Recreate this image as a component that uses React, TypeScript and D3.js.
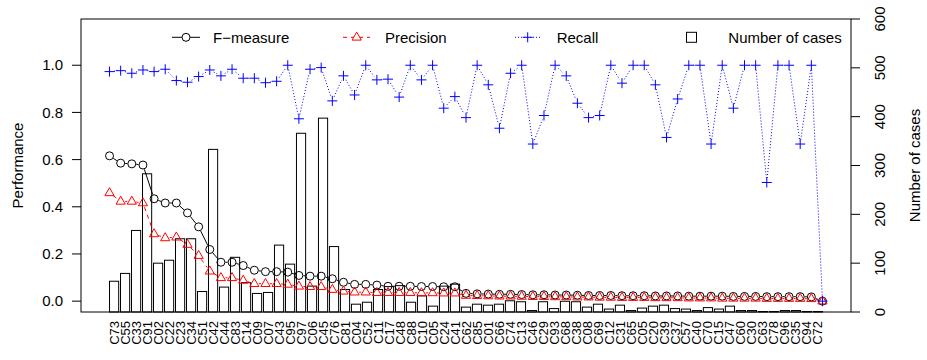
import React from 'react';
import * as d3 from 'd3';

const categories = [
  'C73','C55','C33','C91','C02','C22','C23','C34','C51','C42',
  'C44','C83','C14','C09','C07','C43','C95','C97','C06','C45',
  'C76','C81','C04','C52','C11','C17','C48','C88','C10','C05',
  'C24','C41','C62','C85','C01','C66','C74','C13','C46','C29',
  'C93','C68','C38','C08','C69','C12','C31','C65','C05','C20',
  'C39','C37','C57','C40','C70','C15','C47','C60','C30','C63',
  'C78','C96','C35','C94','C72'
];

const fMeasure = [
  0.616,0.585,0.582,0.577,0.434,0.416,0.416,0.374,0.315,0.219,
  0.165,0.165,0.151,0.131,0.125,0.125,0.123,0.109,0.106,0.106,
  0.095,0.080,0.071,0.071,0.068,0.063,0.063,0.063,0.062,0.062,
  0.061,0.061,0.033,0.031,0.030,0.029,0.029,0.028,0.027,0.027,
  0.026,0.026,0.025,0.024,0.024,0.024,0.023,0.023,0.023,0.022,
  0.022,0.022,0.021,0.021,0.021,0.021,0.020,0.020,0.020,0.019,
  0.019,0.019,0.019,0.018,0.000
];

const precision = [
  0.459,0.423,0.423,0.416,0.285,0.268,0.271,0.240,0.193,0.127,
  0.099,0.099,0.088,0.074,0.074,0.074,0.071,0.063,0.061,0.061,
  0.049,0.042,0.038,0.038,0.036,0.036,0.036,0.036,0.035,0.035,
  0.034,0.034,0.024,0.023,0.022,0.021,0.021,0.020,0.019,0.019,
  0.018,0.018,0.017,0.017,0.016,0.016,0.015,0.015,0.015,0.014,
  0.014,0.014,0.013,0.013,0.013,0.012,0.012,0.012,0.012,0.011,
  0.011,0.011,0.011,0.010,0.000
];

const recall = [
  0.973,0.977,0.966,0.980,0.973,0.983,0.935,0.928,0.952,0.980,
  0.955,0.983,0.945,0.945,0.926,0.932,1.000,0.773,0.983,0.990,
  0.849,0.955,0.874,1.000,0.938,0.941,0.865,1.000,0.938,1.000,
  0.818,0.867,0.778,1.000,0.917,0.733,0.966,1.000,0.666,0.787,
  1.000,0.955,0.839,0.778,0.787,1.000,0.924,1.000,1.000,0.917,
  0.694,0.857,1.000,1.000,0.666,1.000,0.818,1.000,1.000,0.503,
  1.000,1.000,0.666,1.000,0.000
];

const cases = [
  63,79,167,283,100,106,150,150,42,333,
  51,112,60,38,40,137,98,366,53,397,
  134,46,16,20,46,52,54,20,33,12,
  53,57,10,16,14,16,23,21,3,21,
  7,22,21,10,16,6,14,3,8,12,
  14,7,6,3,9,6,12,3,3,1,
  1,3,3,1,1
];

const perfTicks = [0, 0.2, 0.4, 0.6, 0.8, 1.0];
const caseTicks = [0, 100, 200, 300, 400, 500, 600];

const W = 927, H = 360;
const L = 81, R = 851, T = 19, B = 312;
const FONT = '"Liberation Sans", Arial, Helvetica, sans-serif';

function gapped(xs: number[], ys: number[], gap: number) {
  const segs: number[][] = [];
  for (let i = 0; i < xs.length - 1; i++) {
    const dx = xs[i + 1] - xs[i], dy = ys[i + 1] - ys[i];
    const len = Math.hypot(dx, dy);
    if (len <= 2 * gap) continue;
    const ux = dx / len, uy = dy / len;
    segs.push([xs[i] + ux * gap, ys[i] + uy * gap, xs[i + 1] - ux * gap, ys[i + 1] - uy * gap]);
  }
  return segs;
}

const triPath = (cx: number, cy: number) =>
  `M${cx},${cy - 5.2}L${cx + 4.6},${cy + 2.8}L${cx - 4.6},${cy + 2.8}Z`;

const Plus = ({ x, y }: { x: number; y: number }) => (
  <g stroke="#0000ff" strokeWidth={1}>
    <line x1={x - 5} x2={x + 5} y1={y} y2={y} />
    <line x1={x} x2={x} y1={y - 5} y2={y + 5} />
  </g>
);

export default function App() {
  const n = categories.length;
  const xPt = d3.scaleLinear().domain([1 - 0.04 * (n - 1), n + 0.04 * (n - 1)]).range([L, R]);
  const barMin = 0.2, barMax = 1.2 * n;
  const barExp = 0.04 * (barMax - barMin);
  const xBar = d3.scaleLinear().domain([barMin - barExp, barMax + barExp]).range([L, R]);
  const yPerf = d3.scaleLinear().domain([-0.046, 1.196]).range([B, T]);
  const yCases = d3.scaleLinear().domain([0, 600]).range([B, T]);

  const px = categories.map((_, i) => xPt(i + 1));
  const fy = fMeasure.map(v => yPerf(v));
  const py = precision.map(v => yPerf(v));
  const ry = recall.map(v => yPerf(v));

  const gap = 4.5;
  const legY = 37.3;

  return (
    <svg width={W} height={H} style={{ position: 'absolute', left: 0, top: 0, background: '#fff' }} fontFamily={FONT}>
      {/* bars */}
      {cases.map((c, i) => {
        const x0 = xBar(0.2 + 1.2 * i);
        const x1 = xBar(1.2 + 1.2 * i);
        return (
          <rect key={'b' + i} x={x0} y={yCases(c)} width={x1 - x0} height={yCases(0) - yCases(c)}
            fill="#fff" stroke="#000" strokeWidth={1} />
        );
      })}

      {/* F-measure */}
      {gapped(px, fy, gap).map((s, i) => (
        <line key={'fl' + i} x1={s[0]} y1={s[1]} x2={s[2]} y2={s[3]} stroke="#000" strokeWidth={1} />
      ))}
      {px.map((x, i) => (
        <circle key={'fc' + i} cx={x} cy={fy[i]} r={4} fill="none" stroke="#000" strokeWidth={1} />
      ))}

      {/* Precision */}
      {gapped(px, py, gap).map((s, i) => (
        <line key={'pl' + i} x1={s[0]} y1={s[1]} x2={s[2]} y2={s[3]} stroke="#ff0000" strokeWidth={1} strokeDasharray="4,4" />
      ))}
      {px.map((x, i) => (
        <path key={'pt' + i} d={triPath(x, py[i])} fill="none" stroke="#ff0000" strokeWidth={1} />
      ))}

      {/* Recall */}
      {gapped(px, ry, gap).map((s, i) => (
        <line key={'rl' + i} x1={s[0]} y1={s[1]} x2={s[2]} y2={s[3]} stroke="#0000ff" strokeWidth={1} strokeDasharray="1,2" />
      ))}
      {px.map((x, i) => <Plus key={'rp' + i} x={x} y={ry[i]} />)}

      {/* box */}
      <rect x={L} y={T} width={R - L} height={B - T} fill="none" stroke="#000" strokeWidth={1} />

      {/* left axis */}
      {perfTicks.map(t => (
        <g key={'lt' + t}>
          <line x1={L - 9} x2={L} y1={yPerf(t)} y2={yPerf(t)} stroke="#000" />
          <text x={63} y={yPerf(t)} dy="0.35em" textAnchor="end" fontSize={15}>{t.toFixed(1)}</text>
        </g>
      ))}
      <text transform={`translate(23,${(T + B) / 2}) rotate(-90)`} textAnchor="middle" fontSize={15}>Performance</text>

      {/* right axis */}
      {caseTicks.map(t => (
        <g key={'rt' + t}>
          <line x1={R} x2={R + 9} y1={yCases(t)} y2={yCases(t)} stroke="#000" />
          <text transform={`translate(885,${yCases(t)}) rotate(-90)`} textAnchor="middle" fontSize={15}>{t}</text>
        </g>
      ))}
      <text transform={`translate(920,${(T + B) / 2}) rotate(-90)`} textAnchor="middle" fontSize={15}>Number of cases</text>

      {/* category labels */}
      {categories.map((c, i) => {
        const cx = (xBar(0.2 + 1.2 * i) + xBar(1.2 + 1.2 * i)) / 2;
        return (
          <text key={'cl' + i} transform={`translate(${cx},321) rotate(-90)`} textAnchor="end" dy="0.35em" fontSize={13}>{c}</text>
        );
      })}

      {/* legend */}
      <g>
        <line x1={172} x2={200} y1={legY} y2={legY} stroke="#000" />
        <circle cx={186} cy={legY} r={4} fill="#fff" stroke="#000" />
        <text x={213} y={legY} dy="0.35em" fontSize={15}>F−measure</text>

        <line x1={343} x2={370} y1={legY} y2={legY} stroke="#ff0000" strokeDasharray="4,4" />
        <path d={triPath(356.7, legY)} fill="#fff" stroke="#ff0000" />
        <text x={385} y={legY} dy="0.35em" fontSize={15}>Precision</text>

        <line x1={515} x2={540} y1={legY} y2={legY} stroke="#0000ff" strokeDasharray="1,2" />
        <Plus x={527.7} y={legY} />
        <text x={556.7} y={legY} dy="0.35em" fontSize={15}>Recall</text>

        <rect x={686.5} y={legY - 5} width={10} height={10} fill="#fff" stroke="#000" />
        <text x={728.3} y={legY} dy="0.35em" fontSize={15}>Number of cases</text>
      </g>
    </svg>
  );
}
